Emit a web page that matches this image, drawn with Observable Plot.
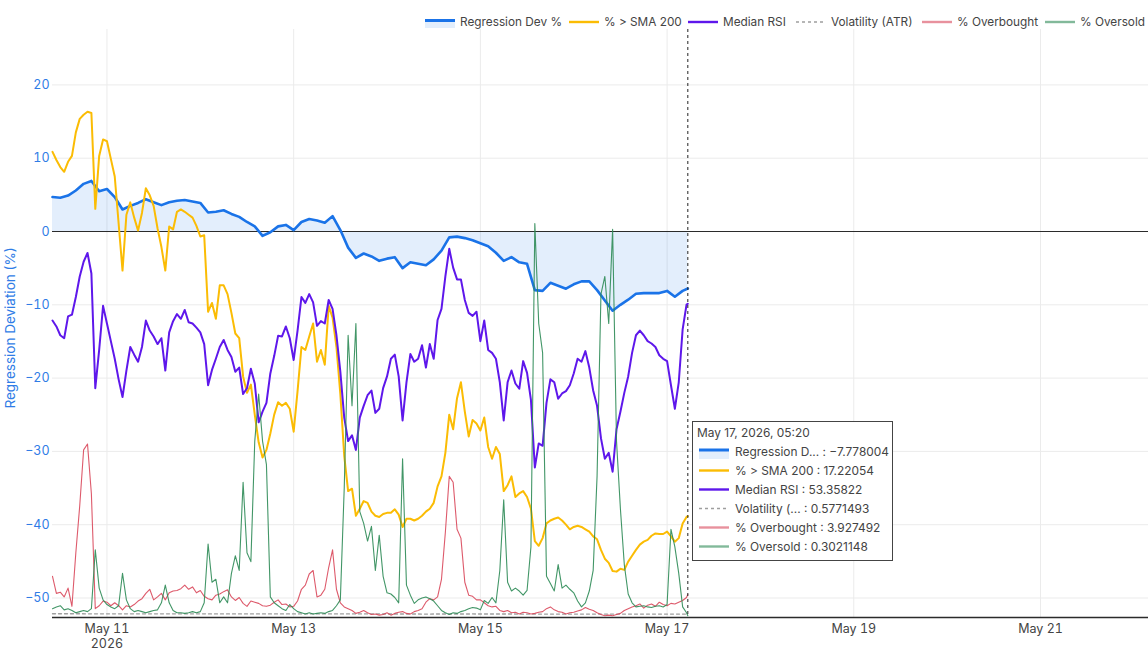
<!DOCTYPE html>
<html>
<head>
<meta charset="utf-8">
<script src="https://cdn.jsdelivr.net/npm/d3@7"></script>
<script src="https://cdn.jsdelivr.net/npm/@observablehq/plot@0.6"></script>
<style>
  html,body{margin:0;padding:0;background:#fff;}
  #wrap{position:relative;width:1148px;height:656px;overflow:hidden;font-family:Inter,"Noto Sans",sans-serif;}
  .leg{position:absolute;top:14px;height:16px;font-size:11.8px;color:#444;white-space:nowrap;}
  .leg svg{position:absolute;left:0;top:0;}
  .leg span{position:absolute;left:40px;top:0;line-height:16px;}
  .ylab{position:absolute;left:10px;top:328px;transform:translate(-50%,-50%) rotate(-90deg);font-size:13.5px;color:#2f7ce6;white-space:nowrap;}
  #tip{position:absolute;left:692px;top:421px;width:199px;height:138px;border:1px solid #444;background:#fff;font-size:11.9px;color:#444;}
  .row{position:absolute;left:0;height:19px;line-height:19px;white-space:nowrap;}
  .row svg{position:absolute;left:6px;top:0;}
  .row span{position:absolute;left:42px;top:0;}
</style>
</head>
<body>
<div id="wrap"></div>
<script>
// ---------- data ----------
const seriesNames = ["Regression Dev %", "% > SMA 200", "Median RSI", "Volatility (ATR)", "% Overbought", "% Oversold"];
const tipNames = ["Regression D...", "% > SMA 200", "Median RSI", "Volatility (...", "% Overbought", "% Oversold"];
const hoverLabel = "May 17, 2026, 05:20";
const xTickLabels = ["May 11", "May 13", "May 15", "May 17", "May 19", "May 21"];
const yTicks = [-50, -40, -30, -20, -10, 0, 10, 20];

// Regression deviation (%), every 2 hours from May 10 10:00 UTC, last point May 17 05:20
const regDev = [4.7,4.6,4.9,5.6,6.5,6.9,5.5,5.8,4.7,3.0,
  3.5,3.9,4.4,4.0,3.6,4.0,4.2,4.3,4.1,3.9,
  2.6,2.7,2.9,2.4,2.0,1.3,0.7,-0.6,-0.1,0.7,
  0.9,0.2,1.3,1.7,1.5,1.2,2.1,0.2,-2.2,-3.6,
  -3.0,-3.4,-4.0,-3.7,-3.5,-5.0,-4.2,-4.4,-4.6,-3.8,
  -2.6,-0.8,-0.7,-0.9,-1.2,-1.6,-2.0,-2.9,-4.0,-3.5,
  -4.2,-4.4,-8.0,-8.1,-7.0,-7.4,-7.8,-7.2,-6.8,-6.8,
  -8.0,-9.4,-10.8,-10.0,-9.3,-8.5,-8.4,-8.4,-8.4,-8.1,
  -8.9,-8.1,-7.778004];

// % above SMA 200, hourly
const smaPct = [79.2,77.8,76.6,75.8,77.5,78.5,82.5,84.8,85.5,86.0,
  85.8,69.5,78.5,81.3,81.0,78.0,75.0,67.0,59.0,68.5,
  70.6,68.0,65.8,68.8,73.0,71.8,70.0,66.2,63.0,59.0,
  66.5,66.0,69.0,69.4,69.0,68.5,68.0,66.6,64.8,65.0,
  52.0,53.5,50.8,56.5,56.5,55.0,51.8,48.3,47.5,41.0,
  38.2,39.6,34.5,29.8,27.2,28.5,31.3,34.5,36.6,36.0,
  36.5,35.5,31.6,38.5,46.0,45.5,47.8,50.0,43.5,45.5,
  43.0,53.0,51.0,46.0,38.0,27.5,21.5,21.9,17.3,18.5,
  19.8,19.5,18.0,17.3,17.1,17.6,17.8,17.8,18.4,17.5,
  15.4,16.8,16.8,16.5,16.8,17.3,18.0,18.5,19.5,22.3,
  24.0,28.0,34.5,32.0,37.3,40.0,35.0,30.8,33.6,33.0,
  31.8,34.0,29.0,27.0,29.0,27.8,21.5,22.5,24.0,20.5,
  21.1,21.5,20.5,18.5,13.0,12.2,13.5,16.0,16.5,16.8,
  17.0,16.5,15.8,15.0,15.4,15.6,15.4,15.0,14.6,13.8,
  13.3,11.5,10.0,9.3,7.9,7.8,8.3,8.1,9.5,10.5,
  11.5,12.4,12.9,13.2,13.9,14.3,14.2,14.2,14.6,13.8,
  12.9,13.5,16.0,17.1,17.22054];

// Median RSI, hourly
const medianRsi = [50.5,49.5,48.0,47.5,51.2,51.5,54.5,58.0,60.5,62.0,
  58.5,39.0,45.5,53.0,50.0,47.0,44.0,40.5,37.5,42.0,
  46.0,44.7,43.5,46.0,50.5,48.8,47.8,46.5,47.5,42.0,
  48.5,50.4,51.6,50.8,52.3,50.2,50.0,49.3,48.5,46.5,
  39.5,42.1,44.0,46.0,47.2,45.5,44.3,41.8,42.5,38.0,
  39.0,42.3,39.8,33.2,35.0,36.5,41.5,44.5,47.9,47.8,
  49.5,47.5,43.8,48.8,54.5,53.5,55.0,53.6,49.6,50.4,
  50.0,54.0,52.5,48.0,41.8,34.0,30.0,31.0,28.5,34.0,
  36.0,37.8,38.6,34.8,35.5,39.0,41.0,44.0,44.7,41.0,
  33.5,40.0,44.8,43.5,44.0,46.3,42.5,46.5,44.0,50.6,
  52.5,58.0,62.7,59.5,57.5,57.5,54.0,51.8,51.3,52.0,
  47.0,50.5,45.5,45.0,44.0,40.0,33.5,40.0,42.0,39.8,
  38.9,43.6,41.6,37.0,25.5,29.6,29.2,36.5,40.5,40.0,
  37.2,38.1,38.5,39.5,41.5,44.0,43.5,45.3,42.5,38.6,
  36.0,30.5,27.0,28.0,24.8,32.0,35.0,38.2,41.0,45.0,
  48.0,48.8,48.0,47.0,46.6,46.0,44.6,44.0,43.6,39.5,
  35.5,40.0,49.0,53.2,53.35822];

// Volatility (ATR), every 12 hours
const volatility = [0.64,0.63,0.62,0.62,0.61,0.60,0.61,0.60,0.59,0.60,0.59,0.58,0.58,0.58,0.5771493];

// % Overbought, hourly
const overbought = [7.0,4.1,4.3,3.5,5.0,1.9,11.0,19.0,28.5,29.5,
  21.0,1.5,2.0,2.8,2.6,2.0,2.5,2.0,1.3,2.0,
  1.8,2.2,2.8,3.2,4.1,4.8,3.0,3.5,4.1,3.0,
  4.2,4.5,4.6,4.9,5.5,4.8,5.2,4.2,4.6,3.6,
  3.2,3.0,3.8,4.0,4.4,4.7,3.5,2.9,3.4,2.4,
  1.9,2.8,2.6,2.4,2.0,1.9,2.1,2.6,3.0,2.2,
  2.3,1.8,1.9,2.8,4.8,5.5,7.4,8.0,3.5,3.8,
  4.8,8.5,11.5,4.8,2.5,1.8,1.5,1.2,0.7,0.9,
  1.2,0.8,0.5,0.6,0.4,0.5,0.8,0.4,0.7,0.9,
  1.0,0.7,0.6,1.0,1.2,1.5,2.6,3.2,3.0,3.5,
  6.5,14.5,24.0,23.0,15.0,13.5,6.0,3.8,3.6,3.0,
  3.0,2.5,2.0,1.8,1.9,1.2,1.0,1.2,0.8,0.9,
  0.6,0.9,0.8,0.6,0.7,0.9,1.0,1.5,1.8,1.3,
  1.0,0.9,0.6,0.8,0.9,1.1,1.3,1.7,1.4,1.2,
  0.8,0.5,0.3,0.4,0.3,0.5,0.7,1.2,1.5,1.8,
  2.0,2.3,1.6,2.1,2.3,1.9,2.6,2.2,2.0,2.4,
  2.3,2.6,2.9,3.4,3.927492];

// % Oversold, hourly
const oversold = [1.5,1.8,2.0,1.3,1.5,1.2,0.8,1.0,1.2,1.0,
  1.5,11.5,5.0,3.0,2.2,1.8,1.5,2.0,7.5,3.0,
  1.5,1.0,1.2,1.0,0.8,1.0,1.2,1.3,2.5,5.5,
  2.5,1.2,0.8,0.8,0.7,0.8,1.0,0.8,1.0,2.5,
  12.5,6.0,6.5,2.5,3.5,2.5,7.5,10.5,8.0,23.0,
  11.0,9.5,30.0,38.0,30.0,26.0,3.5,2.5,2.0,1.5,
  1.2,2.2,1.5,1.0,0.8,0.6,0.8,0.6,0.7,0.8,
  0.7,1.0,1.2,2.0,3.0,22.0,48.0,36.0,50.0,18.0,
  16.0,13.0,15.5,8.0,14.0,7.0,4.2,4.0,3.4,2.5,
  27.0,5.5,3.8,2.4,3.0,3.3,3.5,3.2,2.8,2.0,
  1.2,0.8,0.5,0.8,0.7,1.0,1.2,1.5,1.7,1.6,
  1.3,2.9,2.4,3.4,2.5,8.0,20.0,6.0,4.5,5.0,
  4.5,3.8,4.6,12.0,67.0,50.0,45.0,7.0,5.8,4.5,
  9.0,5.0,5.5,4.8,4.2,2.8,1.8,2.5,4.5,8.0,
  24.0,55.0,58.0,50.0,66.0,30.0,18.5,9.0,4.0,2.5,
  1.8,1.9,2.0,1.8,1.7,1.9,2.0,1.8,2.2,15.0,
  12.0,7.5,1.8,0.8,0.3021148];

// ---------- layout / styles ----------
const colors = ["#1a73e8", "#fbbc04", "#5e17eb", "#9e9e9e", "#d9485b", "#2e8b57"];
const HOUR = 3600e3;
const START = Date.UTC(2026, 4, 10, 10, 0);
const END = Date.UTC(2026, 4, 17, 5, 20);
const XEND = Date.UTC(2026, 4, 22, 3, 46);
const xTickDates = [11, 13, 15, 17, 19, 21].map(d => new Date(Date.UTC(2026, 4, d)));
const Y0 = -52.66, Y1 = 27.56;             // left axis range
const toLeft = v => Y0 + (v / 100) * (Y1 - Y0); // overlaid 0–100 axes

function build(vals, stepH, map) {
  return vals.map((v, i) => ({
    t: new Date(i === vals.length - 1 ? END : START + i * stepH * HOUR),
    v, y: map ? map(v) : v
  }));
}
const reg = build(regDev, 2);
const sma = build(smaPct, 1, toLeft);
const rsi = build(medianRsi, 1, toLeft);
const vol = build(volatility, 12, toLeft);
const ob = build(overbought, 1, toLeft);
const os = build(oversold, 1, toLeft);

const chart = Plot.plot({
  width: 1148, height: 656,
  marginLeft: 52, marginRight: 0, marginTop: 29, marginBottom: 39,
  style: {fontFamily: "Inter, 'Noto Sans', sans-serif", fontSize: "12px", background: "transparent", overflow: "visible"},
  x: {type: "utc", domain: [new Date(START), new Date(XEND)]},
  y: {domain: [Y0, Y1]},
  marks: [
    Plot.ruleY(yTicks, {stroke: "#ebebeb", strokeWidth: 1}),
    Plot.ruleX(xTickDates, {stroke: "#ebebeb", strokeWidth: 1}),
    Plot.areaY(reg, {x: "t", y: "y", fill: colors[0], fillOpacity: 0.12}),
    Plot.ruleY([0], {stroke: "#2b2b2b", strokeWidth: 1.2}),
    Plot.ruleY([Y0], {stroke: "#2b2b2b", strokeWidth: 1.6}),
    Plot.line(reg, {x: "t", y: "y", stroke: colors[0], strokeWidth: 2.6}),
    Plot.line(sma, {x: "t", y: "y", stroke: colors[1], strokeWidth: 2}),
    Plot.line(rsi, {x: "t", y: "y", stroke: colors[2], strokeWidth: 2}),
    Plot.line(vol, {x: "t", y: "y", stroke: colors[3], strokeWidth: 1.3, strokeDasharray: "3,3"}),
    Plot.line(ob, {x: "t", y: "y", stroke: colors[4], strokeWidth: 1.1, strokeOpacity: 0.9}),
    Plot.line(os, {x: "t", y: "y", stroke: colors[5], strokeWidth: 1.1, strokeOpacity: 0.9}),
    Plot.ruleX([new Date(END)], {stroke: "#222", strokeWidth: 1, strokeDasharray: "3,3"}),
    Plot.axisX({ticks: xTickDates, tickSize: 0, tickPadding: 5, label: null, fill: "#444", fontSize: 12.5, lineHeight: 1.2,
      tickFormat: (d, i) => i === 0 ? xTickLabels[0] + "\n2026" : xTickLabels[xTickDates.findIndex(e => +e === +d)]}),
    Plot.axisY({ticks: yTicks, tickSize: 0, tickPadding: 3, label: null, fill: "#2f7ce6", fontSize: 12.5})
  ]
});

const wrap = document.getElementById("wrap");
chart.style.position = "absolute";
chart.style.left = "0";
chart.style.top = "0";
wrap.appendChild(chart);

// y-axis title
const yl = document.createElement("div");
yl.className = "ylab";
yl.textContent = "Regression Deviation (%)";
wrap.appendChild(yl);

// swatch drawer
function swatch(i, w, h) {
  const mid = h / 2;
  let s = `<svg width="${w}" height="${h}">`;
  if (i === 0) {
    s += `<rect x="0" y="${mid - 1}" width="${w}" height="${mid - 1}" fill="${colors[0]}" fill-opacity="0.12"/>`;
    s += `<line x1="0" x2="${w}" y1="${mid - 1.5}" y2="${mid - 1.5}" stroke="${colors[0]}" stroke-width="3"/>`;
  } else if (i === 3) {
    s += `<line x1="0" x2="${w}" y1="${mid}" y2="${mid}" stroke="${colors[3]}" stroke-width="1.3" stroke-dasharray="3,3"/>`;
  } else {
    const op = (i === 4 || i === 5) ? 0.6 : 1;
    s += `<line x1="0" x2="${w}" y1="${mid}" y2="${mid}" stroke="${colors[i]}" stroke-width="2.4" stroke-opacity="${op}"/>`;
  }
  return s + "</svg>";
}

// legend
const legendX = [420, 564, 683, 791, 917, 1040];
seriesNames.forEach((name, i) => {
  const d = document.createElement("div");
  d.className = "leg";
  d.style.left = legendX[i] + "px";
  d.innerHTML = `<div style="position:absolute;left:5px;top:0">${swatch(i, 30, 16)}</div>`;
  const sp = document.createElement("span");
  sp.textContent = name;
  d.appendChild(sp);
  wrap.appendChild(d);
});

// hover box
const lastVals = [regDev, smaPct, medianRsi, volatility, overbought, oversold].map(a => a[a.length - 1]);
const tip = document.createElement("div");
tip.id = "tip";
const title = document.createElement("div");
title.className = "row";
title.style.top = "1px";
title.style.left = "4px";
title.textContent = hoverLabel;
tip.appendChild(title);
tipNames.forEach((n, i) => {
  const r = document.createElement("div");
  r.className = "row";
  r.style.top = (20 + i * 19) + "px";
  r.style.width = "199px";
  r.innerHTML = swatch(i, 30, 19);
  const sp = document.createElement("span");
  sp.textContent = n + " : " + String(lastVals[i]).replace("-", "\u2212");
  r.appendChild(sp);
  tip.appendChild(r);
});
wrap.appendChild(tip);
</script>
</body>
</html>
